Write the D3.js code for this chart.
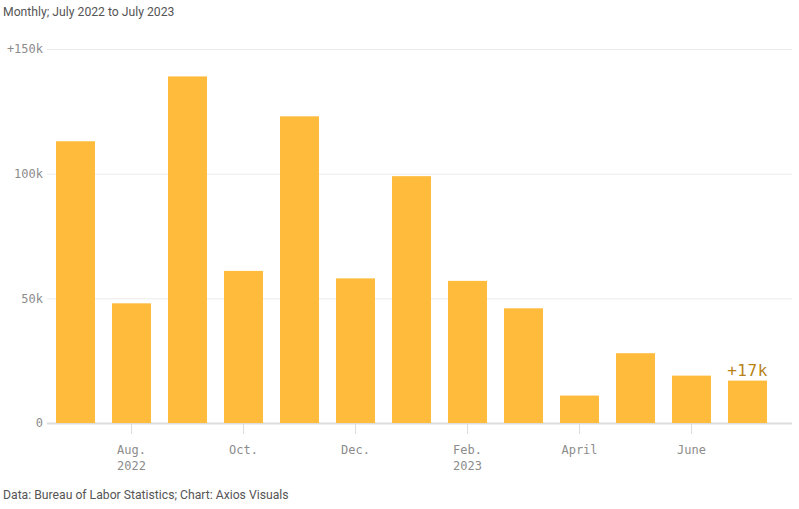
<!DOCTYPE html>
<html>
<head>
<meta charset="utf-8">
<script src="https://cdn.jsdelivr.net/npm/d3@7"></script>
<style>
  body { margin: 0; background: #fff; }
  .title, .source { font-family: Roboto, "Noto Sans", sans-serif; font-size: 12.2px; fill: #555; }
  .tick text { font-family: "DejaVu Sans Mono", "Liberation Mono", monospace; font-size: 12px; fill: #8c8c8c; }
  .domain { display: none; }
</style>
</head>
<body>
<div id="chart"></div>
<script>
// Monthly change, July 2022 to July 2023
const months = ["2022-07", "2022-08", "2022-09", "2022-10", "2022-11", "2022-12",
  "2023-01", "2023-02", "2023-03", "2023-04", "2023-05", "2023-06", "2023-07"];
const values = [113, 48, 139, 61, 123, 58, 99, 57, 46, 11, 28, 19, 17];
const yTicks = [0, 50, 100, 150];
const xTickLabels = {
  "2022-08": ["Aug.", "2022"],
  "2022-10": ["Oct."],
  "2022-12": ["Dec."],
  "2023-02": ["Feb.", "2023"],
  "2023-04": ["April"],
  "2023-06": ["June"]
};

const width = 799;
const height = 509;

const svg = d3.select("#chart")
  .append("svg")
  .attr("width", width)
  .attr("height", height);

// Scales
const x = d3.scaleBand()
  .domain(months)
  .range([47.5, 775.5])
  .paddingInner(0.304)
  .paddingOuter(0.152);

const y = d3.scaleLinear()
  .domain([0, 150])
  .range([423, 49]);

// Grid lines + y labels
svg.append("g")
  .attr("transform", "translate(47,0)")
  .call(d3.axisLeft(y)
    .tickValues(yTicks)
    .tickSize(0)
    .tickPadding(4)
    .tickFormat(d => d === 0 ? "0" : (d === 150 ? "+" : "") + d + "k"))
  .call(g => g.selectAll(".tick line").remove())
  .call(g => g.selectAll(".tick").append("line")
    .attr("x1", 0)
    .attr("x2", 745)
    .attr("stroke", d => d === 0 ? "#ddd" : "#ebebeb")
    .attr("stroke-width", d => d === 0 ? 2 : 1));

// Bars
svg.selectAll(".bar")
  .data(months)
  .enter()
  .append("rect")
  .attr("class", "bar")
  .attr("x", d => x(d))
  .attr("width", x.bandwidth())
  .attr("y", (d, i) => y(values[i]))
  .attr("height", (d, i) => y(0) - y(values[i]))
  .attr("fill", "#ffbb3c");

// X axis
const xAxis = svg.append("g")
  .attr("transform", "translate(0,424)")
  .call(d3.axisBottom(x)
    .tickValues(Object.keys(xTickLabels))
    .tickSize(10)
    .tickPadding(11)
    .tickFormat(""));

xAxis.selectAll(".tick line").attr("stroke", "#ddd");

xAxis.selectAll(".tick text")
  .each(function(d) {
    const t = d3.select(this);
    xTickLabels[d].forEach((s, i) => {
      t.append("tspan")
        .attr("x", 0)
        .attr("dy", i === 0 ? "0.71em" : "1.35em")
        .text(s);
    });
  });

// Last value annotation
const last = months.length - 1;
svg.append("text")
  .attr("x", x(months[last]) + x.bandwidth() / 2)
  .attr("y", y(values[last]) - 5)
  .attr("text-anchor", "middle")
  .attr("font-family", "'DejaVu Sans Mono', monospace")
  .attr("font-size", 16)
  .attr("letter-spacing", 0.5)
  .attr("fill", "#b88316")
  .text("+" + values[last] + "k");

// Title + source
svg.append("text")
  .attr("class", "title")
  .attr("x", 3)
  .attr("y", 16)
  .text("Monthly; July 2022 to July 2023");

svg.append("text")
  .attr("class", "source")
  .attr("x", 3)
  .attr("y", 499)
  .text("Data: Bureau of Labor Statistics; Chart: Axios Visuals");
</script>
</body>
</html>
